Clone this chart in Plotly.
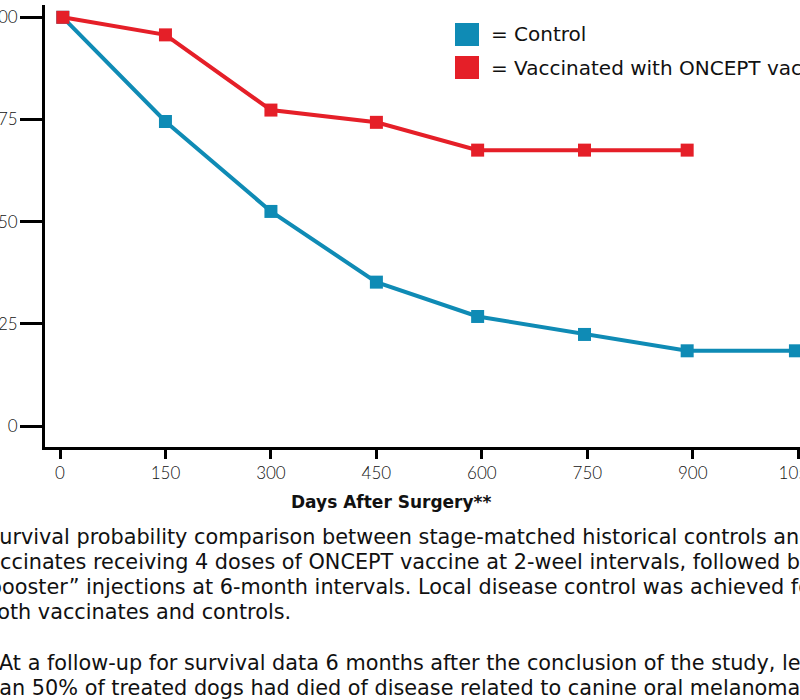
import plotly.graph_objects as go

# ---- data ----
days_control = [4, 150, 300, 450, 594, 746, 892, 1046]
surv_control = [100, 74.5, 52.5, 35.2, 26.8, 22.4, 18.4, 18.4]
days_vacc = [4, 150, 300, 450, 594, 746, 892]
surv_vacc = [100, 95.7, 77.3, 74.3, 67.5, 67.5, 67.5]
x_ticks = [0, 150, 300, 450, 600, 750, 900, 1050]
y_ticks = [0, 25, 50, 75, 100]
legend_labels = ["= Control", "= Vaccinated with ONCEPT vaccine"]
x_title = "Days After Surgery**"
caption_lines = [
    "Survival probability comparison between stage-matched historical controls and",
    "vaccinates receiving 4 doses of ONCEPT vaccine at 2-weel intervals, followed by",
    "\u201cbooster\u201d injections at 6-month intervals. Local disease control was achieved for",
    "both vaccinates and controls.",
    "At a follow-up for survival data 6 months after the conclusion of the study, less",
    "than 50% of treated dogs had died of disease related to canine oral melanoma.",
]

BLUE = "#0f8bb5"
RED = "#e51f28"
FONT = "DejaVu Sans"
TXT = "#111111"

W, H = 800, 700
L, R, T, B = 45, 0, 5, 253
PW = W - L - R
PH = H - T - B

fig = go.Figure()
fig.add_trace(go.Scatter(x=days_control, y=surv_control, mode="lines+markers",
                         name="Control", line=dict(color=BLUE, width=4),
                         marker=dict(symbol="square", size=13, color=BLUE),
                         showlegend=False))
fig.add_trace(go.Scatter(x=days_vacc, y=surv_vacc, mode="lines+markers",
                         name="Vaccinated with ONCEPT vaccine", line=dict(color=RED, width=4),
                         marker=dict(symbol="square", size=13, color=RED),
                         showlegend=False))


def pgx(px):  # figure px -> paper x
    return (px - L) / PW


def pgy(py):  # figure px -> paper y
    return (T + PH - py) / PH


# manual legend (squares + text)
leg_colors = [BLUE, RED]
leg_tops = [23, 56]
for lab, col, top in zip(legend_labels, leg_colors, leg_tops):
    fig.add_shape(type="rect", xref="paper", yref="paper",
                  x0=pgx(455), x1=pgx(479), y0=pgy(top + 23), y1=pgy(top),
                  fillcolor=col, line=dict(width=0))
    fig.add_annotation(x=pgx(489), y=pgy(top + 11.5),
                       xref="paper", yref="paper", xanchor="left", yanchor="middle",
                       text=lab, showarrow=False,
                       font=dict(family=FONT, size=20, color=TXT))

# x-axis title
fig.add_annotation(x=pgx(391), y=pgy(502), xref="paper", yref="paper",
                   xanchor="center", yanchor="middle", text="<b>" + x_title + "</b>",
                   showarrow=False, font=dict(family=FONT, size=17, color=TXT))

# caption lines (pixel left edges of the text boxes and vertical centres)
cap_left = [-16.5, -27.1, -23.8, -18.3, -3.2, -23.6]
cap_center = [536.5, 561.5, 586.5, 611.5, 662.5, 687.5]
for line, lx, cy in zip(caption_lines, cap_left, cap_center):
    fig.add_annotation(x=0, y=0, xref="paper", yref="paper", xanchor="left", yanchor="middle",
                       xshift=lx - L, yshift=-(cy - (T + PH)), text=line,
                       showarrow=False, font=dict(family=FONT, size=20.8, color=TXT))

# axis ranges from pixel calibration (0 d -> 60 px, 0.7031 px/day; 0 % -> 426 px, 4.087 px/%)
x_lo = (L - 60) / 0.7031
x_hi = (W - R - 60) / 0.7031
y_lo = (426 - (T + PH)) / 4.087
y_hi = (426 - T) / 4.087

tick_font = dict(family="Lato", size=17, color=TXT, weight=300)

fig.update_layout(
    width=W, height=H,
    margin=dict(l=L, r=R, t=T, b=B, autoexpand=False),
    paper_bgcolor="white", plot_bgcolor="white",
    showlegend=False,
    xaxis=dict(range=[x_lo, x_hi], tickvals=x_ticks, ticktext=[str(v) for v in x_ticks],
               showline=True, linecolor="black", linewidth=3,
               ticks="outside", ticklen=9, tickwidth=3, tickcolor="black",
               showgrid=False, zeroline=False, automargin=False,
               ticklabeloverflow="allow", tickfont=tick_font),
    yaxis=dict(range=[y_lo, y_hi], tickvals=y_ticks, ticktext=[str(v) for v in y_ticks],
               showline=True, linecolor="black", linewidth=3,
               ticks="outside", ticklen=22, tickwidth=3, tickcolor="black",
               showgrid=False, zeroline=False, automargin=False,
               ticklabeloverflow="allow", ticklabelstandoff=-1, tickfont=tick_font),
)

# remove the default 8px page margin so the figure fills the 800x700 window
fig.write_html("out.html", config={"displayModeBar": False},
               post_script="document.body.style.margin='0px';")
